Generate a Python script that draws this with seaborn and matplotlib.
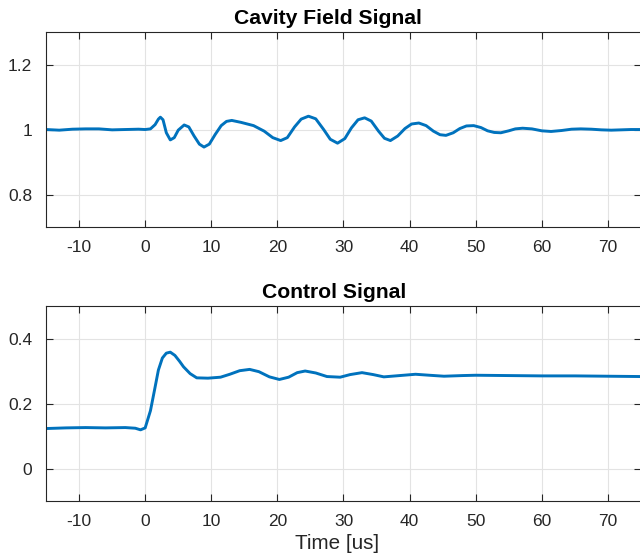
import matplotlib
matplotlib.use("Agg")
import matplotlib.pyplot as plt
import seaborn as sns
import pandas as pd

# cavity field signal
cav_t = [-15, -13, -11, -9, -7, -5, -3, -1, 0, 0.8, 1.5, 2.0, 2.3, 2.7, 3.2, 3.8, 4.4, 5.0,
         5.9, 6.6, 7.4, 8.2, 8.9, 9.7, 10.6, 11.5, 12.3, 13.1, 14.5, 16.4, 18, 19.3, 20.5,
         21.5, 22.6, 23.6, 24.7, 25.8, 27, 28, 29.1, 30.2, 31.2, 32.2, 33.2, 34.2, 35.3,
         36.2, 37.1, 38.2, 39.3, 40.3, 41.4, 42.5, 43.6, 44.6, 45.5, 46.6, 47.6, 48.6, 49.7,
         50.8, 51.8, 52.8, 53.8, 55, 56, 57.1, 58.5, 60, 61.4, 63, 64.5, 65.9, 67.5, 69,
         70.5, 72, 73.5, 75]
cav_y = [1.000, 0.998, 1.001, 1.002, 1.002, 0.999, 1.000, 1.001, 1.000, 1.002, 1.015, 1.032,
         1.038, 1.030, 0.990, 0.968, 0.975, 0.998, 1.014, 1.008, 0.980, 0.955, 0.946, 0.955,
         0.985, 1.012, 1.025, 1.028, 1.022, 1.012, 0.995, 0.975, 0.966, 0.975, 1.008, 1.032,
         1.041, 1.033, 1.000, 0.970, 0.958, 0.972, 1.005, 1.030, 1.036, 1.026, 0.995, 0.973,
         0.966, 0.980, 1.003, 1.017, 1.020, 1.012, 0.995, 0.984, 0.982, 0.990, 1.003, 1.011,
         1.012, 1.006, 0.996, 0.991, 0.990, 0.996, 1.002, 1.004, 1.002, 0.996, 0.994, 0.997,
         1.001, 1.002, 1.001, 0.999, 0.998, 0.999, 1.000, 1.000]

# control signal
ctl_t = [-15, -12, -9, -6, -3, -1.5, -0.7, 0, 0.8, 1.4, 2.0, 2.6, 3.2, 3.8, 4.5, 5.2, 5.8,
         6.8, 7.8, 9.5, 11.4, 12.8, 14.3, 15.8, 17.2, 18.8, 20.3, 21.7, 23, 24.2, 25.8,
         27.5, 29.5, 31, 32.8, 34.5, 36.1, 38.5, 40.9, 43, 45.2, 48, 50, 55, 60, 65, 70, 75]
ctl_y = [0.123, 0.125, 0.126, 0.125, 0.126, 0.124, 0.119, 0.125, 0.178, 0.240, 0.303, 0.340,
         0.355, 0.358, 0.348, 0.330, 0.313, 0.292, 0.279, 0.278, 0.281, 0.290, 0.301, 0.305,
         0.298, 0.282, 0.274, 0.281, 0.295, 0.300, 0.294, 0.283, 0.281, 0.289, 0.295, 0.289,
         0.282, 0.286, 0.290, 0.287, 0.284, 0.286, 0.287, 0.286, 0.285, 0.285, 0.284, 0.283]

x_ticks = [-10, 0, 10, 20, 30, 40, 50, 60, 70]

sns.set_style("white")
plt.rcParams['font.family'] = ['Liberation Sans', 'DejaVu Sans']
plt.rcParams['axes.unicode_minus'] = False

blue = "#0072BD"
dark = "#262626"

fig = plt.figure(figsize=(6.4, 5.56), dpi=100)
ax1 = fig.add_axes([0.0719, 0.5917, 0.9296, 0.3507])
ax2 = fig.add_axes([0.0719, 0.0989, 0.9296, 0.3507])

cav = pd.DataFrame({"t": cav_t, "y": cav_y})
ctl = pd.DataFrame({"t": ctl_t, "y": ctl_y})
sns.lineplot(data=cav, x="t", y="y", ax=ax1, color=blue, linewidth=2.1)
sns.lineplot(data=ctl, x="t", y="y", ax=ax2, color=blue, linewidth=2.1)

setup = [
    (ax1, "Cavity Field Signal", 0.474, (0.7, 1.3), [0.8, 1.0, 1.2], ["0.8", "1", "1.2"]),
    (ax2, "Control Signal", 0.485, (-0.1, 0.5), [0.0, 0.2, 0.4], ["0", "0.2", "0.4"]),
]
for ax, title, tx, ylim, yt, ytl in setup:
    ax.set_xlim(-15, 75)
    ax.set_ylim(*ylim)
    ax.set_xticks(x_ticks)
    ax.set_yticks(yt)
    ax.set_yticklabels(ytl)
    ax.grid(True, color="#e3e3e3", linewidth=0.8)
    ax.set_axisbelow(True)
    for s in ax.spines.values():
        s.set_visible(True)
        s.set_color(dark)
        s.set_linewidth(0.8)
    ax.tick_params(direction="in", length=5, width=0.8, color=dark, labelcolor=dark,
                   labelsize=12.5, top=True, right=True, left=True, bottom=True)
    ax.tick_params(axis="x", pad=9)
    ax.tick_params(axis="y", pad=10)
    ax.set_title(title, fontsize=15.2, fontweight="bold", color="black", pad=5.5, x=tx)
    ax.set_xlabel("")
    ax.set_ylabel("")

ax2.set_xlabel("Time [us]", fontsize=14.9, color=dark, labelpad=3)
ax2.xaxis.set_label_coords(0.49, -0.17)

fig.savefig("out.png", dpi=100)
